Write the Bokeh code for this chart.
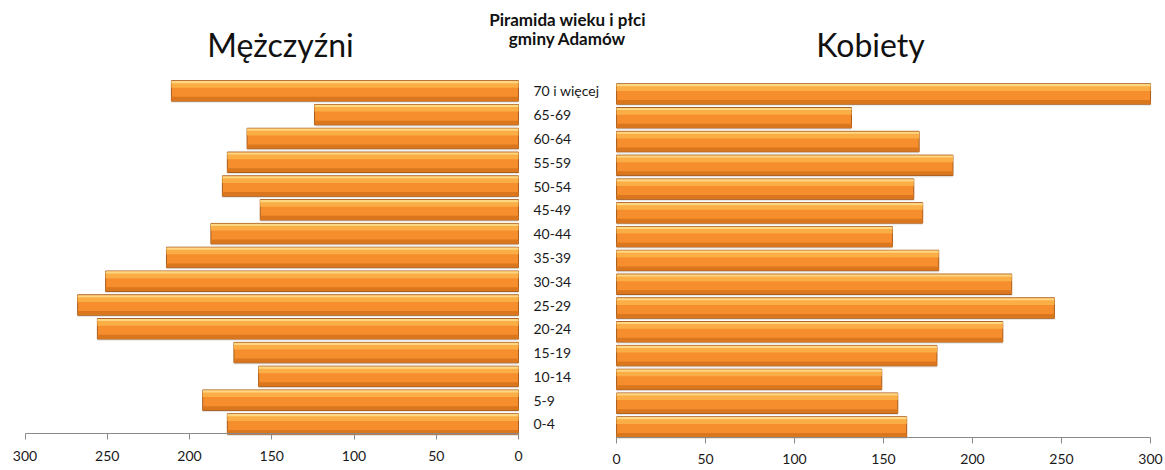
from bokeh.plotting import figure
from bokeh.models import Range1d, LinearAxis, FixedTicker, Label, ColumnDataSource
from bokeh.transform import dodge
from bokeh.embed import file_html
from bokeh.resources import INLINE
import numpy as np

# ---------------- data ----------------
categories = ["0-4", "5-9", "10-14", "15-19", "20-24", "25-29", "30-34", "35-39",
              "40-44", "45-49", "50-54", "55-59", "60-64", "65-69", "70 i więcej"]
men = [177, 192, 158, 173, 256, 268, 251, 214, 187, 157, 180, 177, 165, 124, 211]
women = [163, 158, 149, 180, 217, 246, 222, 181, 155, 172, 167, 189, 170, 132, 312]
x_ticks = [0, 50, 100, 150, 200, 250, 300]
title_main = ["Piramida wieku i płci", "gminy Adamów"]
title_men = "Mężczyźni"
title_women = "Kobiety"
axis_max = 300

FONT = "Lato"

idx = list(range(len(categories)))
src_m = ColumnDataSource(dict(y=idx, left=men, right=[0] * len(men)))
src_w = ColumnDataSource(dict(y=idx, left=[0] * len(women),
                              right=list(np.minimum(women, axis_max))))

p = figure(width=1165, height=470,
           x_range=Range1d(314.9, -393.3), y_range=Range1d(-1.955, 17.80),
           x_axis_location=None, y_axis_location=None,
           min_border=0, toolbar_location=None, output_backend="svg",
           outline_line_color=None)
p.extra_x_ranges = {"right": Range1d(-346.1, 308.4)}
p.extra_y_ranges = {"right": Range1d(-1.829, 17.93)}
p.grid.visible = False


def draw(src, xr, yr):
    kw = dict(x_range_name=xr, y_range_name=yr, source=src)
    # soft shadow
    p.hbar(y=dodge("y", -0.07), height=0.86, left="left", right="right",
           fill_color="#9a9a9a", fill_alpha=0.25, line_color=None, **kw)
    # base bar
    p.hbar(y="y", height=0.86, left="left", right="right",
           fill_color="#F68E2E", line_color="#A85C1C", line_width=1, **kw)
    # darker lower band
    p.hbar(y=dodge("y", -0.33), height=0.16, left="left", right="right",
           fill_color="#D9761E", line_color=None, **kw)
    # highlight
    p.hbar(y=dodge("y", 0.25), height=0.24, left="left", right="right",
           fill_color="#FAAE45", line_color=None, **kw)
    p.hbar(y=dodge("y", 0.37), height=0.09, left="left", right="right",
           fill_color="#FFD681", line_color=None, **kw)


draw(src_m, "default", "default")
draw(src_w, "right", "right")


def style_x(ax):
    ax.ticker = FixedTicker(ticks=x_ticks)
    ax.bounds = (0, axis_max)
    ax.axis_line_color = "#8a8a8a"
    ax.major_tick_line_color = "#8a8a8a"
    ax.major_tick_out = 6
    ax.major_tick_in = 0
    ax.minor_tick_line_color = None
    ax.major_label_standoff = 11
    ax.major_label_text_font = FONT
    ax.major_label_text_font_size = "14px"
    ax.major_label_text_color = "#1a1a1a"


ax_l = LinearAxis(fixed_location=-0.40)
style_x(ax_l)
p.add_layout(ax_l, "below")

ax_r = LinearAxis(x_range_name="right", y_range_name="right", fixed_location=-0.44)
style_x(ax_r)
p.add_layout(ax_r, "below")

# category labels
ax_c = LinearAxis(fixed_location=0)
ax_c.ticker = FixedTicker(ticks=idx)
ax_c.major_label_overrides = {i: c for i, c in zip(idx, categories)}
ax_c.axis_line_color = None
ax_c.major_tick_line_color = None
ax_c.minor_tick_line_color = None
ax_c.major_tick_out = 0
ax_c.major_tick_in = 0
ax_c.major_label_standoff = 15
ax_c.major_label_text_font = FONT
ax_c.major_label_text_font_size = "14px"
ax_c.major_label_text_color = "#1a1a1a"
p.add_layout(ax_c, "right")

# titles
p.add_layout(Label(x=144.7, y=15.95, text=title_men, text_align="center",
                   text_baseline="middle", text_font=FONT, text_font_size="32px",
                   text_color="#111111"))
p.add_layout(Label(x=142.7, y=15.95, x_range_name="right", text=title_women,
                   text_align="center", text_baseline="middle", text_font=FONT,
                   text_font_size="32px", text_color="#111111"))
p.add_layout(Label(x=-29.8, y=17.0, text=title_main[0], text_align="center",
                   text_baseline="middle", text_font=FONT, text_font_size="17px",
                   text_font_style="bold", text_color="#111111"))
p.add_layout(Label(x=-29.8, y=16.2, text=title_main[1], text_align="center",
                   text_baseline="middle", text_font=FONT, text_font_size="17px",
                   text_font_style="bold", text_color="#111111"))

open("out.html", "w").write(file_html(p, INLINE))
